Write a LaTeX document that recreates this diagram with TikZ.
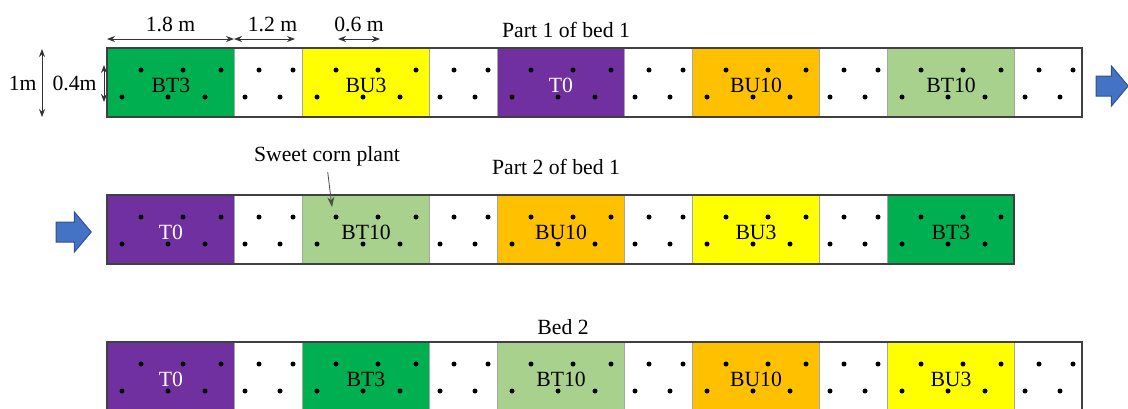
\documentclass[tikz,border=0pt]{standalone}
\usepackage{fontspec}
\setmainfont{Liberation Serif}
\usetikzlibrary{calc,arrows.meta,shapes.arrows}
\definecolor{bt3}{HTML}{00B050}
\definecolor{bu3}{HTML}{FFFF00}
\definecolor{t0}{HTML}{7030A0}
\definecolor{bu10}{HTML}{FFC000}
\definecolor{bt10}{HTML}{A9D18E}
\definecolor{arrowblue}{HTML}{4472C4}
\definecolor{arrowedge}{HTML}{2F528F}
\definecolor{plotedge}{HTML}{44546A}

\begin{document}
\begin{tikzpicture}[
    x=0.5pt, y=-0.5pt,
    every node/.style={font=\fontsize{10.85}{13}\selectfont, inner sep=0pt},
    plot/.style={draw=plotedge, line width=0.5pt, anchor=north west, minimum width=63.5pt, minimum height=34.5pt, text height=9.5pt, text depth=0pt},
    gap/.style={draw=gray!70, line width=0.5pt, anchor=north west, minimum width=34pt, minimum height=34.5pt},
    bed/.style={draw=black!75, line width=0.8pt},
    plant/.style={fill=black},
    dim/.style={{Stealth[length=4pt,width=3pt]}-{Stealth[length=4pt,width=3pt]}, draw=black!80, line width=0.4pt},
    pointer/.style={-{Stealth[length=5pt,width=3.5pt]}, draw=black!70, line width=0.4pt},
    blockarrow/.style={single arrow, draw=arrowedge, fill=arrowblue, line width=0.5pt, inner xsep=0pt, inner ysep=4.75pt, single arrow head extend=5pt, single arrow tip angle=100},
  ]
  \useasboundingbox (0,0) rectangle (1128,408);
  \foreach \row/\ytop/\ngap/\xend/\plots in {
      1/48/4/1082/{bt3/BT3/black, bu3/BU3/black, t0/T0/white, bu10/BU10/black, bt10/BT10/black},
      2/195/3/1014/{t0/T0/white, bt10/BT10/black, bu10/BU10/black, bu3/BU3/black, bt3/BT3/black},
      3/342/4/1082/{t0/T0/white, bt3/BT3/black, bt10/BT10/black, bu10/BU10/black, bu3/BU3/black}} {
    \foreach \fillc/\lab/\txt [count=\i from 0] in \plots {
      \node[plot, fill=\fillc, text=\txt] (p\row-\i) at (107+195*\i, \ytop) {\lab};
      \foreach \dx/\dy in {34/22, 76/22, 114/22, 15/49, 61/49, 98/49}
        \fill[plant] ($(p\row-\i.north west)+(\dx,\dy)$) circle[radius=1.25pt];
    }
    \foreach \i in {0,...,\ngap} {
      \node[gap] (g\row-\i) at (234+195*\i, \ytop) {};
      \foreach \dx/\dy in {25/22, 59/22, 11/49, 46/49}
        \fill[plant] ($(g\row-\i.north west)+(\dx,\dy)$) circle[radius=1.25pt];
    }
    \draw[bed] (107,\ytop) rectangle (\xend,\ytop+69);
  }

  \node (part1) at (566,30) {Part 1 of bed 1};
  \node (part2) at (556,167) {Part 2 of bed 1};
  \node (bed2) at (563,327) {Bed 2};

  \coordinate (w18a) at (107,39);
  \coordinate (w18b) at (234,39);
  \coordinate (w12a) at (234,39);
  \coordinate (w12b) at (295,39);
  \coordinate (w06a) at (338,39);
  \coordinate (w06b) at (380,39);
  \draw[dim] (w18a) -- node[above=3.5pt] {1.8 m} (w18b);
  \draw[dim] (w12a) -- node[above=3.5pt, xshift=4pt] {1.2 m} (w12b);
  \draw[dim] (w06a) -- node[above=3.5pt] {0.6 m} (w06b);

  \coordinate (h1a) at (42,49);
  \coordinate (h1b) at (42,117);
  \coordinate (h04a) at (104,65);
  \coordinate (h04b) at (104,102);
  \draw[dim] (h1a) -- node[left=2.5pt] {1m} (h1b);
  \draw[dim] (h04a) -- node[left=3.5pt] {0.4m} (h04b);

  \node (corn) at (327,156) {Sweet corn plant};
  \coordinate (plant) at (332,207);
  \draw[pointer, shorten <=3pt] (corn.south) -- (plant);

  \node[blockarrow, minimum height=16pt] (next1) at (1108,86) {};
  \node[blockarrow, minimum height=17.5pt] (next2) at (69.5,232) {};
\end{tikzpicture}
\end{document}
